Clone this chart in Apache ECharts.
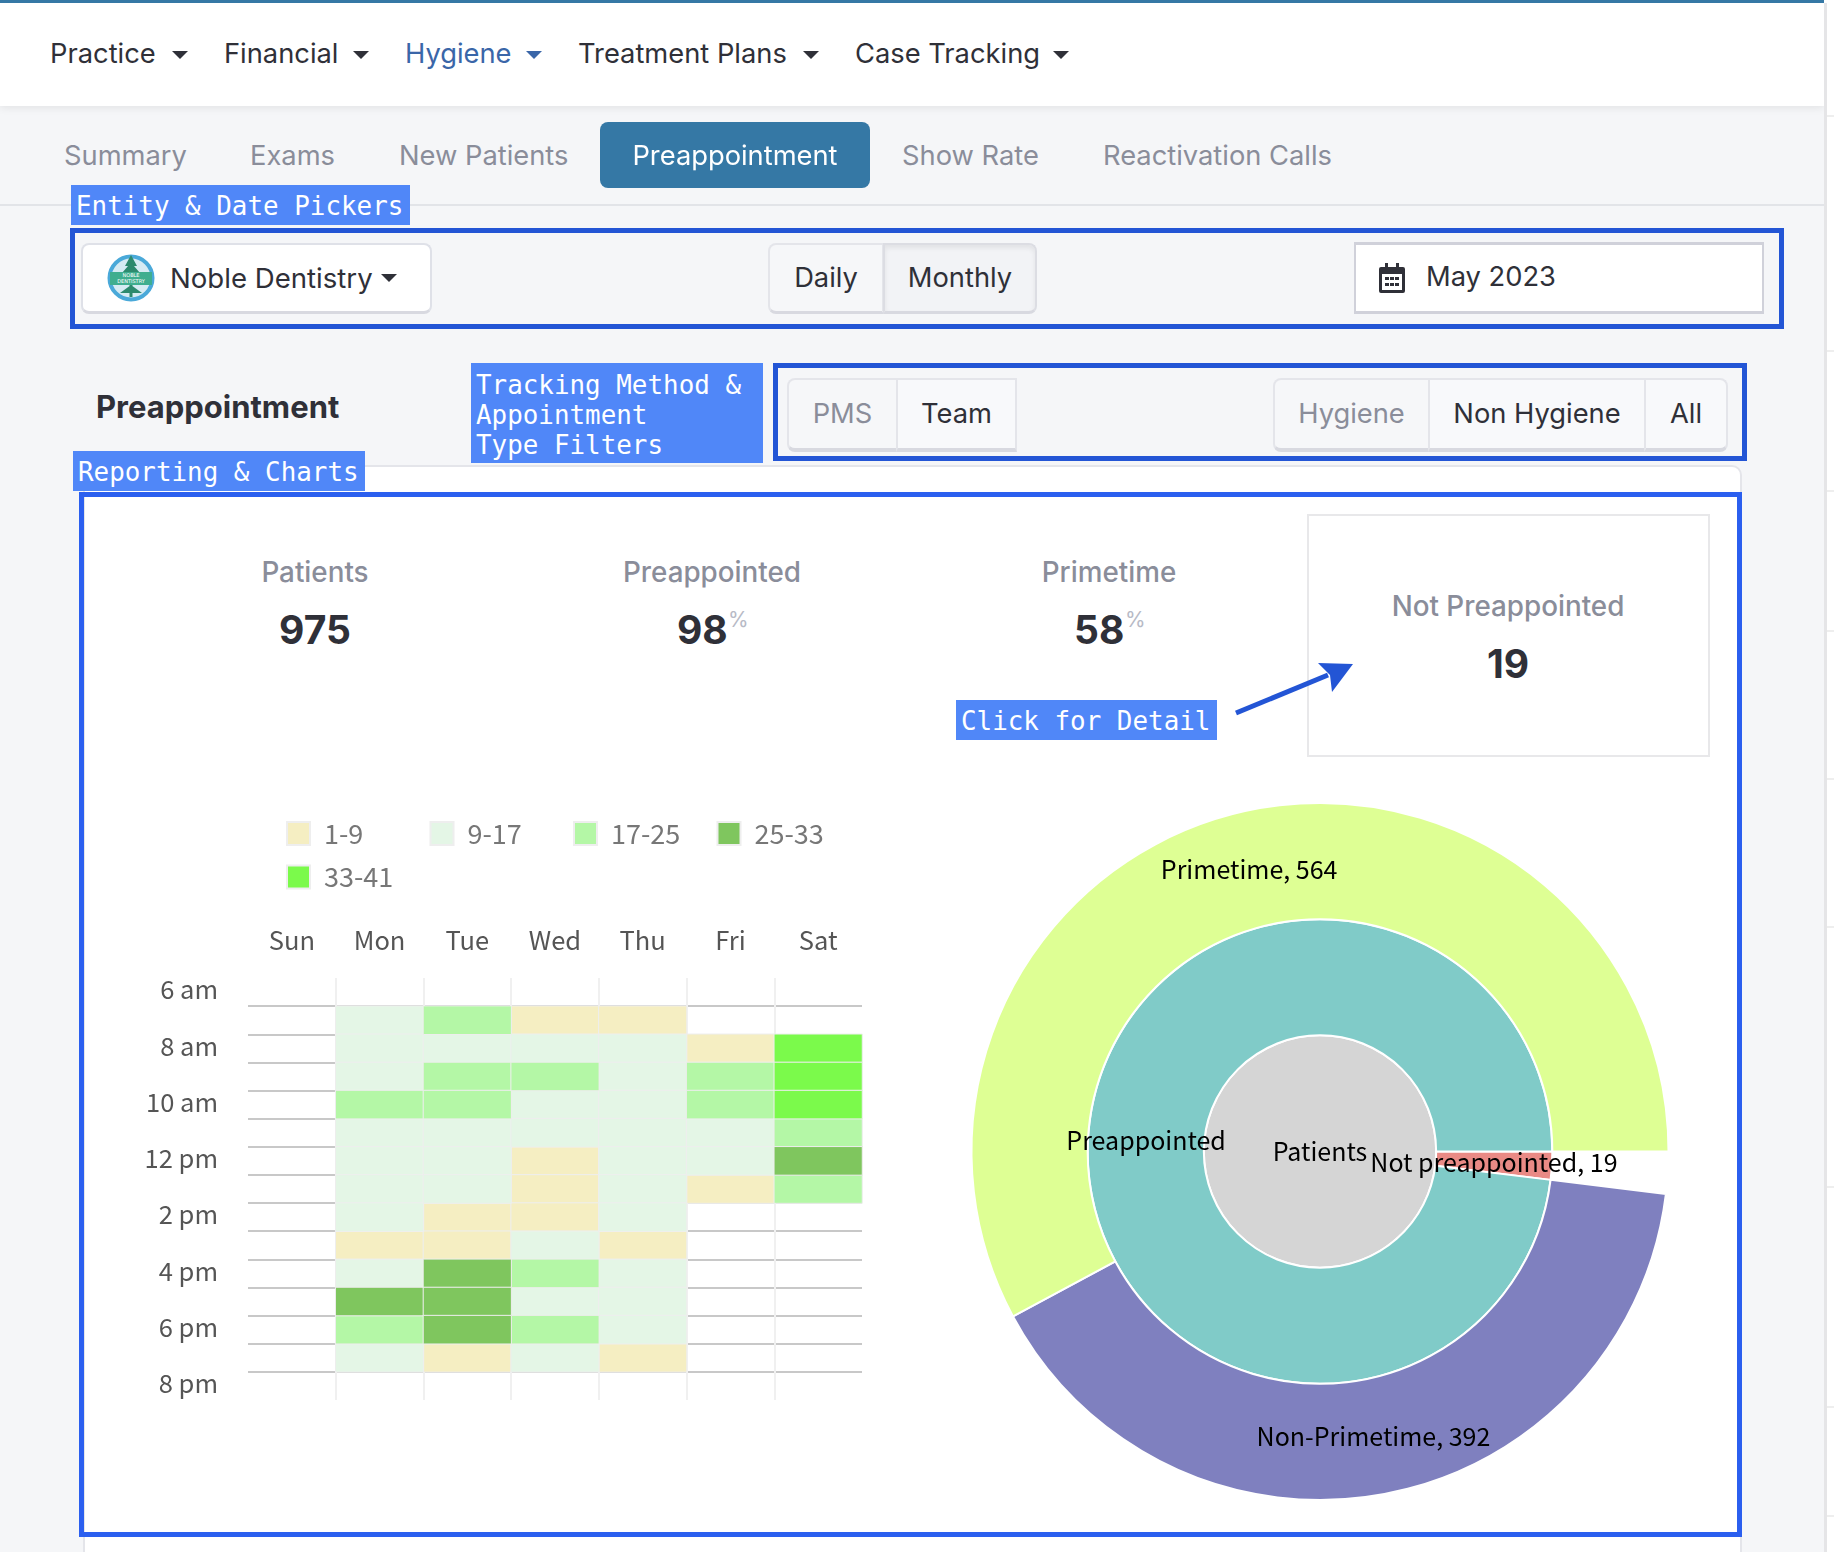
<!DOCTYPE html>
<html lang="en">
<head>
<meta charset="utf-8" />
<title>Preappointment</title>
<style>
    html, body { margin: 0; padding: 0; background: #f5f6f8; }
    #page { position: relative; width: 1834px; height: 1552px; overflow: hidden; font-family: Inter, "Noto Sans", sans-serif; color: #2f3038; }
    #page div, #page svg { position: absolute; box-sizing: border-box; }
    .t { display: flex; align-items: center; white-space: nowrap; line-height: 1; }
    .c { justify-content: center; }
    .caret { width: 0; height: 0; border-left: 8px solid transparent; border-right: 8px solid transparent; border-top: 8px solid #2f3038; }
    .note { background: #5087f8; color: #fff; font-family: "DejaVu Sans Mono", monospace; font-size: 25.9px; line-height: 30px; padding-left: 5px; white-space: pre; }
    .frame { border: 5px solid #2355d5; }
    .btn { background: #f6f7f9; border: 2px solid #e4e5ea; border-bottom: 4px solid #d8d9e0; }
    .sidetick { left: 1827px; width: 7px; height: 2px; background: #eeeeee; }
</style>
</head>
<body>
<div id="page">
    <!-- top nav -->
    <div style="left:0;top:0;width:1824px;height:106px;background:#fff;box-shadow:0 2px 8px rgba(0,0,0,.08)"></div>
    <div style="left:0;top:0;width:1834px;height:3px;background:#3578a5"></div>
    <div class="t" style="left:50px;top:34px;height:40px;font-size:27.3px">Practice</div>
    <div class="caret" style="left:172px;top:51px"></div>
    <div class="t" style="left:224px;top:34px;height:40px;font-size:27.3px">Financial</div>
    <div class="caret" style="left:353px;top:51px"></div>
    <div class="t" style="left:405px;top:34px;height:40px;font-size:27.3px;color:#3a66a8">Hygiene</div>
    <div class="caret" style="left:526px;top:51px;border-top-color:#3a66a8"></div>
    <div class="t" style="left:578px;top:34px;height:40px;font-size:27.3px">Treatment Plans</div>
    <div class="caret" style="left:803px;top:51px"></div>
    <div class="t" style="left:855px;top:34px;height:40px;font-size:27.3px">Case Tracking</div>
    <div class="caret" style="left:1053px;top:51px"></div>

    <!-- strip at the right edge -->
    <div style="left:1824px;top:0;width:10px;height:1552px;background:#fff"></div>
    <div style="left:1824px;top:3px;width:3px;height:1549px;background:#e5e5e7"></div>
    <div class="sidetick" style="top:115px"></div>
    <div class="sidetick" style="top:350px"></div>
    <div class="sidetick" style="top:490px"></div>
    <div class="sidetick" style="top:630px"></div>
    <div class="sidetick" style="top:778px"></div>
    <div class="sidetick" style="top:926px"></div>
    <div class="sidetick" style="top:1186px"></div>
    <div class="sidetick" style="top:1406px"></div>
    <div class="sidetick" style="top:1515px"></div>

    <!-- tabs -->
    <div style="left:0;top:204px;width:1824px;height:2px;background:#e2e4e8"></div>
    <div class="t" style="left:64px;top:136px;height:40px;font-size:27.3px;color:#8a8d9a">Summary</div>
    <div class="t" style="left:250px;top:136px;height:40px;font-size:27.3px;color:#8a8d9a">Exams</div>
    <div class="t" style="left:399px;top:136px;height:40px;font-size:27.3px;color:#8a8d9a">New Patients</div>
    <div class="t c" style="left:600px;top:123px;width:270px;height:66px;border-radius:8px;color:#fff;font-size:27.3px;z-index:1">Preappointment</div>
    <div style="left:600px;top:122px;width:270px;height:66px;border-radius:8px;background:#3578a5"></div>
    <div class="t" style="left:902px;top:136px;height:40px;font-size:27.3px;color:#8a8d9a">Show Rate</div>
    <div class="t" style="left:1103px;top:136px;height:40px;font-size:27.3px;color:#8a8d9a">Reactivation Calls</div>

    <!-- entity and date pickers -->
    <div class="note" style="left:71px;top:185px;width:339px;height:40px;line-height:42px">Entity &amp; Date Pickers</div>
    <div class="frame" style="left:70px;top:228px;width:1714px;height:101px"></div>
    <div style="left:81px;top:243px;width:351px;height:71px;background:#fff;border:2px solid #dfe1e8;border-bottom:3px solid #d8d9e0;border-radius:8px"></div>
    <svg style="left:107px;top:254px" width="48" height="48" viewBox="0 0 48 48">
        <circle cx="24" cy="24" r="21.5" fill="#d6ebf3" stroke="#4aa9d9" stroke-width="4"/>
        <path d="M24 1 L30 12 L27 12 L33 19 L15 19 L21 12 L18 12 Z" fill="#2d8a6e"/>
        <path d="M22.5 30 L25.5 30 L25.5 43 L22.5 43 Z M24 31 L35 39 L13 39 Z" fill="#2d8a6e"/>
        <rect x="3" y="18" width="42" height="13" fill="#3fae8f"/>
        <text x="24" y="23" text-anchor="middle" font-size="5" font-family="DejaVu Sans" fill="#fff">NOBLE</text>
        <text x="24" y="29" text-anchor="middle" font-size="5" font-family="DejaVu Sans" fill="#fff">DENTISTRY</text>
    </svg>
    <div class="t" style="left:170px;top:259px;height:40px;font-size:27.6px">Noble Dentistry</div>
    <div class="caret" style="left:381px;top:274px"></div>

    <div class="t c" style="left:768px;top:243px;width:116px;height:71px;background:#f6f7f9;border:2px solid #e4e5ea;border-bottom:3px solid #d8d9e0;border-radius:8px 0 0 8px;font-size:27.3px">Daily</div>
    <div class="t c" style="left:883px;top:243px;width:154px;height:71px;background:#f2f3f6;border:2px solid #dcdde3;border-bottom:3px solid #d8d9e0;border-radius:0 8px 8px 0;box-shadow:inset 0 3px 5px rgba(0,0,0,.07);font-size:27.3px">Monthly</div>

    <div style="left:1354px;top:242px;width:410px;height:72px;background:#fff;border:2px solid #d0d1da;border-top-width:3px;border-bottom-width:3px"></div>
    <svg style="left:1379px;top:263px" width="26" height="30" viewBox="0 0 26 30" fill="#2f3038">
        <path d="M6 0h3v4h8V0h3v4h4a2 2 0 0 1 2 2v22a2 2 0 0 1-2 2H2a2 2 0 0 1-2-2V6a2 2 0 0 1 2-2h4zM3 11v16h20V11z"/>
        <rect x="6" y="14" width="4" height="3"/><rect x="11" y="14" width="4" height="3"/><rect x="16" y="14" width="4" height="3"/>
        <rect x="6" y="20" width="4" height="3"/><rect x="11" y="20" width="4" height="3"/><rect x="16" y="20" width="4" height="3"/>
    </svg>
    <div class="t" style="left:1426px;top:257px;height:40px;font-size:27.3px">May 2023</div>

    <!-- filters -->
    <div class="t" style="left:96px;top:385px;height:42px;font-size:31px;font-weight:700">Preappointment</div>
    <div class="note" style="left:471px;top:363px;width:292px;height:100px;padding-top:7px">Tracking Method &amp;
Appointment
Type Filters</div>
    <div class="frame" style="left:773px;top:363px;width:974px;height:98px"></div>
    <div class="t c btn" style="left:787px;top:378px;width:111px;height:74px;border-radius:8px 0 0 8px;font-size:27.3px;color:#8a8d9a">PMS</div>
    <div class="t c btn" style="left:896px;top:378px;width:121px;height:74px;background:#f8f9fb;font-size:27.3px">Team</div>
    <div class="t c btn" style="left:1273px;top:378px;width:157px;height:74px;border-radius:8px 0 0 8px;font-size:27.3px;color:#8a8d9a">Hygiene</div>
    <div class="t c btn" style="left:1428px;top:378px;width:218px;height:74px;background:#f8f9fb;font-size:27.3px">Non Hygiene</div>
    <div class="t c btn" style="left:1644px;top:378px;width:84px;height:74px;background:#f8f9fb;border-radius:0 8px 8px 0;font-size:27.3px">All</div>

    <!-- card -->
    <div style="left:83px;top:465px;width:1659px;height:1100px;background:#fff;border:2px solid #e4e5ea;border-radius:10px"></div>
    <div class="frame" style="left:79px;top:492px;width:1663px;height:1045px;border-color:#2b5fef;border-width:5px"></div>
    <div class="note" style="left:73px;top:451px;width:292px;height:40px;line-height:42px">Reporting &amp; Charts</div>

    <!-- kpis -->
    <div class="t c" style="left:115px;top:553px;width:400px;height:40px;font-size:27.8px;font-weight:500;color:#8a8d9a">Patients</div>
    <div class="t c" style="left:115px;top:604px;width:400px;height:50px;font-size:39px;font-weight:700">975</div>
    <div class="t c" style="left:512px;top:553px;width:400px;height:40px;font-size:27.8px;font-weight:500;color:#8a8d9a">Preappointed</div>
    <div class="t" style="left:677px;top:604px;height:50px;font-size:39px;font-weight:700">98</div>
    <div class="t" style="left:728px;top:608px;height:22px;font-size:21px;color:#b7bac6">%</div>
    <div class="t c" style="left:909px;top:553px;width:400px;height:40px;font-size:27.8px;font-weight:500;color:#8a8d9a">Primetime</div>
    <div class="t" style="left:1074px;top:604px;height:50px;font-size:39px;font-weight:700">58</div>
    <div class="t" style="left:1125px;top:608px;height:22px;font-size:21px;color:#b7bac6">%</div>
    <div style="left:1307px;top:514px;width:403px;height:243px;border:2px solid #e8e8ea"></div>
    <div class="t c" style="left:1308px;top:587px;width:400px;height:40px;font-size:27.8px;font-weight:500;color:#8a8d9a">Not Preappointed</div>
    <div class="t c" style="left:1308px;top:638px;width:400px;height:50px;font-size:39px;font-weight:700">19</div>

    <div class="note" style="left:956px;top:700px;width:261px;height:40px;line-height:42px">Click for Detail</div>
    <svg style="left:1230px;top:655px" width="130" height="65" viewBox="0 0 130 65">
        <path d="M6 58 L98 20" stroke="#2355d5" stroke-width="5" fill="none"/>
        <path d="M123 9 L88 8 L100 20 L102 37 Z" fill="#2355d5"/>
    </svg>

    <div id="main" style="left:0;top:0;width:1834px;height:1552px"></div>
</div>

<script src="https://cdn.jsdelivr.net/npm/echarts@6/dist/echarts.min.js"></script>
<script>
    // heatmap axes
    var days = ['Sun', 'Mon', 'Tue', 'Wed', 'Thu', 'Fri', 'Sat'];
    var hours = ['6 am', '7 am', '8 am', '9 am', '10 am', '11 am', '12 pm', '1 pm', '2 pm', '3 pm', '4 pm', '5 pm', '6 pm', '7 pm', '8 pm'];

    // appointments per slot, only the colour band can be read so these are band estimates
    var sunValues = [null, null, null, null, null, null, null, null, null, null, null, null, null, null, null];
    var monValues = [null, 13, 13, 13, 21, 13, 13, 13, 13, 5, 13, 29, 21, 13, null];
    var tueValues = [null, 21, 13, 21, 21, 13, 13, 13, 5, 5, 29, 29, 29, 5, null];
    var wedValues = [null, 5, 13, 21, 13, 13, 5, 5, 5, 13, 21, 13, 21, 13, null];
    var thuValues = [null, 5, 13, 13, 13, 13, 13, 13, 13, 5, 13, 13, 13, 5, null];
    var friValues = [null, null, 5, 21, 21, 13, 13, 5, null, null, null, null, null, null, null];
    var satValues = [null, null, 37, 37, 37, 21, 29, 21, null, null, null, null, null, null, null];

    // legend bands
    var bandNames = ['1-9', '9-17', '17-25', '25-33', '33-41'];
    var bandMins = [1, 9, 17, 25, 33];
    var bandMaxs = [9, 17, 25, 33, 41];
    var bandColors = ['#f5eec2', '#e4f6e6', '#b4f7a6', '#7fc65e', '#7bfa4b'];

    // sunburst
    var notPreappointed = 19;
    var nonPrimetime = 392;
    var primetime = 564;

    var dayValues = [sunValues, monValues, tueValues, wedValues, thuValues, friValues, satValues];
    var chartFont = '"Noto Sans CJK SC", "Noto Sans", sans-serif';

    // 每个区间一个 series，这样图例可以直接用
    var heatSeries = bandNames.map(function (name, b) {
        var cells = [];
        dayValues.forEach(function (vals, d) {
            vals.forEach(function (v, h) {
                if (v !== null && v >= bandMins[b] && v < bandMaxs[b]) cells.push([d, h, v]);
            });
        });
        return {
            name: name,
            type: 'heatmap',
            data: cells,
            itemStyle: { color: bandColors[b], borderColor: '#eeeeee', borderWidth: 1 },
            emphasis: { disabled: true }
        };
    });

    var myChart = echarts.init(document.getElementById('main'));
    var option = {
        animation: false,
        legend: {
            data: bandNames,
            left: 286,
            top: 820,
            width: 590,
            padding: 0,
            itemWidth: 23,
            itemHeight: 23,
            itemGap: 16.5,
            icon: 'rect',
            selectedMode: false,
            formatter: '{a|{name}}',
            textStyle: {
                rich: {
                    a: { fontFamily: chartFont, fontSize: 27, color: '#777777', width: 89, height: 23, lineHeight: 23, padding: [0, 0, 0, 9] }
                }
            }
        },
        grid: { left: 248, top: 978, width: 614, height: 422 },
        xAxis: {
            type: 'category',
            position: 'top',
            data: days,
            axisLine: { show: false },
            axisTick: { show: false },
            axisLabel: { fontFamily: chartFont, fontSize: 25.5, color: '#555555', margin: 25 },
            splitLine: { show: true, showMinLine: false, showMaxLine: false, lineStyle: { color: '#f0f0f0', width: 2 } }
        },
        yAxis: {
            type: 'category',
            inverse: true,
            data: hours,
            axisLine: { show: false },
            axisTick: { show: false },
            axisLabel: { interval: 1, fontFamily: chartFont, fontSize: 25.5, color: '#555555', margin: 30, verticalAlign: 'bottom', lineHeight: 5 },
            splitLine: { show: true, interval: 0, showMinLine: false, showMaxLine: false, lineStyle: { color: '#c8c8c8', width: 2 } }
        },
        series: heatSeries.concat([{
            type: 'sunburst',
            center: [1320, 1151.5],
            radius: [0, 348.5],
            startAngle: 0,
            sort: null,
            emphasis: { disabled: true },
            itemStyle: { borderColor: '#ffffff', borderWidth: 2 },
            label: {
                rotate: 0,
                fontFamily: chartFont,
                fontSize: 25,
                color: '#000000',
                formatter: function (p) {
                    return p.data.children ? p.name : p.name + ', ' + p.value;
                }
            },
            data: [{
                name: 'Patients',
                itemStyle: { color: '#d5d5d5' },
                children: [{
                    name: 'Not preappointed',
                    value: notPreappointed,
                    itemStyle: { color: '#e98a85' }
                }, {
                    name: 'Preappointed',
                    itemStyle: { color: '#80cbc8' },
                    children: [{
                        name: 'Non-Primetime',
                        value: nonPrimetime,
                        itemStyle: { color: '#7f80bf' }
                    }, {
                        name: 'Primetime',
                        value: primetime,
                        itemStyle: { color: '#deff94' }
                    }]
                }]
            }]
        }])
    };
    myChart.setOption(option);
</script>
</body>
</html>
